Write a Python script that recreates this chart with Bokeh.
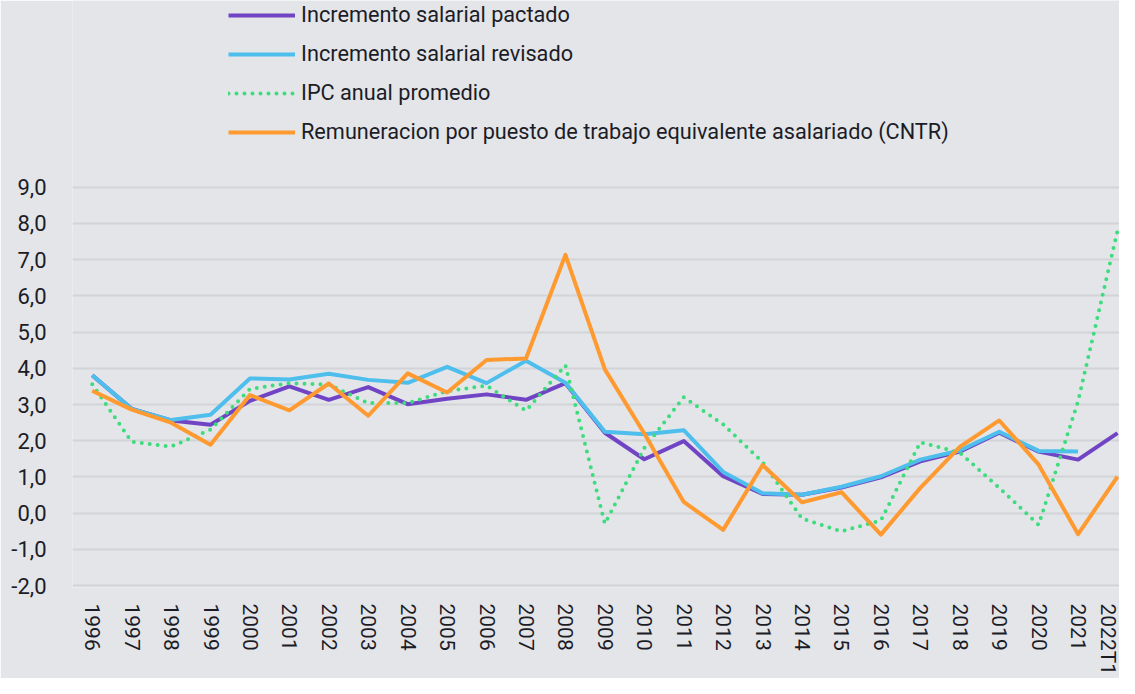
from bokeh.plotting import figure
from bokeh.models import Range1d, FixedTicker, CustomJSTickFormatter, Legend, LegendItem, ColumnDataSource
from bokeh.embed import file_html
from bokeh.resources import INLINE
import math

labels = ["1996", "1997", "1998", "1999", "2000", "2001", "2002", "2003", "2004", "2005",
          "2006", "2007", "2008", "2009", "2010", "2011", "2012", "2013", "2014", "2015",
          "2016", "2017", "2018", "2019", "2020", "2021", "2022T1"]

pactado = [3.81, 2.88, 2.56, 2.44, 3.10, 3.50, 3.13, 3.48, 3.01, 3.16, 3.28, 3.13, 3.59,
           2.22, 1.49, 1.99, 1.02, 0.53, 0.51, 0.71, 0.99, 1.43, 1.70, 2.22, 1.70, 1.48, 2.21]
revisado = [3.81, 2.88, 2.57, 2.72, 3.72, 3.69, 3.85, 3.68, 3.60, 4.04, 3.59, 4.21, 3.60,
            2.25, 2.18, 2.29, 1.14, 0.55, 0.51, 0.73, 1.02, 1.48, 1.73, 2.25, 1.72, 1.70, float("nan")]
ipc = [3.56, 1.97, 1.84, 2.31, 3.43, 3.59, 3.55, 3.04, 3.04, 3.37, 3.52, 2.83, 4.08,
       -0.29, 1.80, 3.20, 2.45, 1.41, -0.15, -0.50, -0.20, 1.96, 1.67, 0.70, -0.32, 3.09, 7.80]
cntr = [3.38, 2.86, 2.50, 1.89, 3.26, 2.84, 3.58, 2.69, 3.86, 3.33, 4.23, 4.27, 7.13,
        3.97, 2.20, 0.31, -0.46, 1.33, 0.30, 0.58, -0.59, 0.70, 1.83, 2.56, 1.34, -0.58, 1.01]

series_names = ["Incremento salarial pactado", "Incremento salarial revisado",
                "IPC anual promedio",
                "Remuneracion por puesto de trabajo equivalente asalariado (CNTR)"]
y_ticks = [-2, -1, 0, 1, 2, 3, 4, 5, 6, 7, 8, 9]

FONT = "Roboto"
TEXT = "#1c1c26"
BG = "#e3e5e9"

styles = [dict(line_color="#7044c4", line_width=4, line_join="round"),
          dict(line_color="#4ebeec", line_width=4, line_join="round"),
          dict(line_color="#3ddc7c", line_width=4, line_dash="0 8", line_cap="round", line_join="round"),
          dict(line_color="#ff9a30", line_width=4, line_join="round")]

x = list(range(len(labels)))
src = ColumnDataSource(dict(x=x, pactado=pactado, revisado=revisado, ipc=ipc, cntr=cntr))

# frame spans the full height above the axis; the upper part holds the legend
p = figure(width=1119, height=678, output_backend="svg", toolbar_location=None,
           x_range=Range1d(-0.5, 26.05), y_range=Range1d(-2.05, 14.15),
           min_border_left=72, min_border_right=0, min_border_top=0, min_border_bottom=82)
p.background_fill_color = BG
p.border_fill_color = BG
p.outline_line_color = None

renderers = []
for col, st in zip(["pactado", "revisado", "ipc", "cntr"], styles):
    renderers.append(p.line("x", col, source=src, **st))

p.xaxis.ticker = FixedTicker(ticks=x)
p.xaxis.formatter = CustomJSTickFormatter(args=dict(labels=labels),
                                          code="return labels[Math.round(tick)] || '';")
p.xaxis.major_label_orientation = -math.pi / 2
p.xaxis.axis_line_color = None
p.xaxis.major_tick_line_color = None
p.xaxis.minor_tick_line_color = None
p.xaxis.major_label_standoff = 10
p.xaxis.major_label_text_font = FONT
p.xaxis.major_label_text_font_size = "21px"
p.xaxis.major_label_text_color = TEXT

p.yaxis.ticker = FixedTicker(ticks=y_ticks)
p.yaxis.formatter = CustomJSTickFormatter(code="return tick.toFixed(1).replace('.', ',');")
p.yaxis.axis_line_color = None
p.yaxis.major_tick_line_color = None
p.yaxis.minor_tick_line_color = None
p.yaxis.major_label_standoff = 20
p.yaxis.major_label_text_font = FONT
p.yaxis.major_label_text_font_size = "22px"
p.yaxis.major_label_text_color = TEXT

p.xgrid.grid_line_color = None
p.ygrid.ticker = FixedTicker(ticks=y_ticks)
p.ygrid.grid_line_color = "#d3d4d7"
p.ygrid.grid_line_width = 2

items = [LegendItem(label=n, renderers=[r]) for n, r in zip(series_names, renderers)]
legend = Legend(items=items, location=(156, 443), orientation="vertical",
                glyph_width=67, glyph_height=20, label_height=20, label_standoff=6,
                spacing=14, padding=0, margin=0,
                background_fill_alpha=0, border_line_color=None,
                label_text_font=FONT, label_text_font_size="21.7px", label_text_color=TEXT)
p.add_layout(legend, "center")

open("out.html", "w").write(file_html(p, INLINE))
